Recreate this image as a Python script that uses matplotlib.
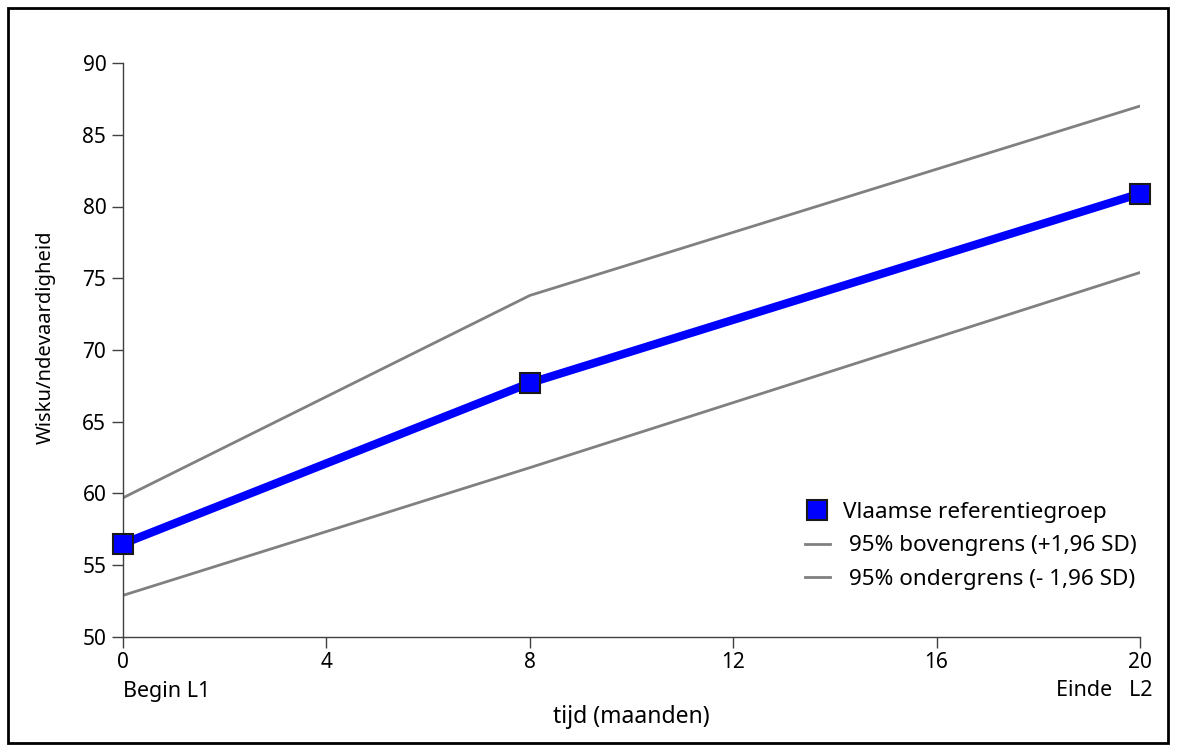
import matplotlib
matplotlib.use("Agg")
import matplotlib.pyplot as plt
from matplotlib.patches import Rectangle
from matplotlib.lines import Line2D

months = [0, 8, 20]
referentie = [56.5, 67.7, 80.9]
bovengrens = [59.7, 73.8, 87.0]
ondergrens = [52.9, 61.8, 75.4]
x_ticks = [0, 4, 8, 12, 16, 20]
y_ticks = [50, 55, 60, 65, 70, 75, 80, 85, 90]

plt.rcParams['font.family'] = ['Noto Sans', 'DejaVu Sans']

fig = plt.figure(figsize=(11.77, 7.51), dpi=100)
ax = fig.add_axes([123/1177, 1-637/751, (1140-123)/1177, (637-63)/751])

ax.plot(months, bovengrens, color='#808080', lw=2, zorder=2)
ax.plot(months, ondergrens, color='#808080', lw=2, zorder=2)
ax.plot(months, referentie, color='#0000FF', lw=6, marker='s', markersize=15,
        markerfacecolor='#0000FF', markeredgecolor='#1a1a1a', markeredgewidth=1.5,
        zorder=3, clip_on=False)

ax.set_xlim(0, 20)
ax.set_ylim(50, 90)
ax.set_xticks(x_ticks)
ax.set_yticks(y_ticks)
ax.tick_params(axis='both', direction='out', length=8, width=1, colors='#404040',
               labelcolor='black', labelsize=15)
ax.tick_params(axis='x', pad=3)
ax.tick_params(axis='y', pad=4)
for s in ['top', 'right']:
    ax.spines[s].set_visible(False)
for s in ['left', 'bottom']:
    ax.spines[s].set_color('#404040')
    ax.spines[s].set_linewidth(1)

ax.text(0, -(691-637)/574, 'Begin L1', transform=ax.get_xaxis_transform(), ha='left', va='center', fontsize=15.5)
ax.text(20.25, -(691-637)/574, 'Einde   L2', transform=ax.get_xaxis_transform(), ha='right', va='center', fontsize=15.5)
ax.text(0.5, -(717-637)/574, 'tijd (maanden)', transform=ax.transAxes, ha='center', va='center', fontsize=16.5)
ax.text(-(123-46)/1017, (637-337)/574, 'Wisku/ndevaardigheid', transform=ax.transAxes, ha='center', va='center',
        rotation=90, fontsize=14.5)

handles = [
    Line2D([], [], color='none', marker='s', markersize=15, markerfacecolor='#0000FF',
           markeredgecolor='#1a1a1a', markeredgewidth=1.5),
    Line2D([], [], color='#808080', lw=2),
    Line2D([], [], color='#808080', lw=2),
]
labels = ['Vlaamse referentiegroep', ' 95% bovengrens (+1,96 SD)', ' 95% ondergrens (- 1,96 SD)']
ax.legend(handles, labels, loc='center left', bbox_to_anchor=((805-123)/1017, (637-546)/574),
          frameon=False, fontsize=16.2, handlelength=1.1, handletextpad=0.6, labelspacing=0.55,
          borderpad=0, borderaxespad=0)

fig.patches.append(Rectangle((8/1177, 1-743/751), (1168-8)/1177, (743-8)/751,
                             transform=fig.transFigure, fill=False, edgecolor='black', lw=2))

fig.savefig('out.png', dpi=100)
